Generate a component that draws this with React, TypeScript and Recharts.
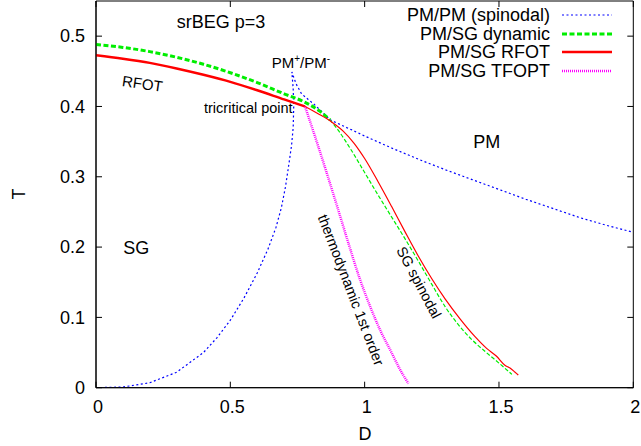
import { LineChart, Line, XAxis, YAxis, Legend, ReferenceArea, Customized } from 'recharts';

// axis ticks
const D_TICKS = [0, 0.5, 1, 1.5, 2];
const T_TICKS = [0, 0.1, 0.2, 0.3, 0.4, 0.5];

// PM/PM spinodal: lower branch up to the cusp, then the upper branch
const spinD = [0, 0.1, 0.2, 0.3, 0.4, 0.45, 0.5, 0.55, 0.6, 0.64, 0.67, 0.69, 0.705, 0.718, 0.728, 0.734, 0.736, 0.734, 0.729,
  0.745, 0.765, 0.79, 0.809, 0.84, 0.871, 0.95, 1.0, 1.1, 1.2, 1.3, 1.4, 1.5, 1.6, 1.7, 1.8, 1.9, 2.0];
const spinT = [0, 0.001, 0.007, 0.022, 0.05, 0.071, 0.096, 0.127, 0.163, 0.197, 0.228, 0.256, 0.285, 0.318, 0.345, 0.37, 0.4, 0.425, 0.449,
  0.432, 0.418, 0.41, 0.404, 0.393, 0.381, 0.367, 0.358, 0.341, 0.325, 0.31, 0.296, 0.282, 0.268, 0.255, 0.242, 0.231, 0.221];

// PM/SG dynamic, left of the tricritical point (thick) and the SG spinodal right of it (thin)
const dynD = [0, 0.1, 0.2, 0.3, 0.4, 0.5, 0.6, 0.7, 0.772, 0.834, 0.871];
const dynT = [0.488, 0.484, 0.478, 0.47, 0.46, 0.448, 0.434, 0.418, 0.407, 0.393, 0.381];
const dynSpD = [0.871, 0.9, 0.95, 1.0, 1.05, 1.1, 1.15, 1.2, 1.25, 1.3, 1.35, 1.4, 1.45, 1.5, 1.548];
const dynSpT = [0.381, 0.367, 0.338, 0.306, 0.274, 0.243, 0.212, 0.18, 0.147, 0.115, 0.089, 0.068, 0.051, 0.035, 0.019];

// PM/SG RFOT
const rfotD = [0, 0.1, 0.2, 0.3, 0.4, 0.5, 0.6, 0.7, 0.778];
const rfotT = [0.473, 0.468, 0.462, 0.454, 0.445, 0.435, 0.423, 0.41, 0.4];
const rfotSpD = [0.778, 0.83, 0.877, 0.92, 0.96, 1.0, 1.05, 1.1, 1.15, 1.2, 1.25, 1.3, 1.355, 1.41, 1.454, 1.49, 1.522, 1.541, 1.56, 1.572];
const rfotSpT = [0.4, 0.389, 0.378, 0.365, 0.348, 0.326, 0.293, 0.258, 0.222, 0.187, 0.155, 0.126, 0.098, 0.073, 0.056, 0.045, 0.032, 0.028, 0.022, 0.018];

// PM/SG TFOPT
const tfoptD = [0.778, 0.8, 0.83, 0.86, 0.9, 0.94, 0.98, 1.02, 1.06, 1.1, 1.13, 1.163];
const tfoptT = [0.4, 0.375, 0.34, 0.304, 0.255, 0.205, 0.157, 0.116, 0.08, 0.05, 0.027, 0.006];

const rows = (d: number[], t: number[]) => d.map((D, i) => ({ D, T: t[i] }));

const W = 641;
const H = 446;
const LEFT = 96;
const RIGHT = 633.3;
const TOP = 1;
const BOTTOM = 387.7;
const FONT = '"Liberation Sans", Arial, Helvetica, sans-serif';

type Style = { color: string; dash?: string; width: number };
const LEGEND: { name: string; style: Style }[] = [
  { name: 'PM/PM (spinodal)', style: { color: '#0000ff', dash: '2 2.5', width: 1.2 } },
  { name: 'PM/SG dynamic', style: { color: '#00ee00', dash: '5 2.5', width: 3 } },
  { name: 'PM/SG RFOT', style: { color: '#ff0000', width: 2.5 } },
  { name: 'PM/SG TFOPT', style: { color: '#ff00ff', dash: '1 1', width: 2.5 } },
];
const [BLUE, GREEN, RED, MAGENTA] = LEGEND.map((l) => l.style);

function XTick({ x, y, payload }: any) {
  return (
    <g>
      <line x1={x} x2={x} y1={BOTTOM - 6} y2={BOTTOM} stroke="#000" />
      <line x1={x} x2={x} y1={TOP} y2={TOP + 6} stroke="#000" />
      <text x={x + 2} y={y} dy="0.71em" textAnchor="middle" fontSize={18} fontFamily={FONT} fill="#000">
        {payload.value}
      </text>
    </g>
  );
}

function YTick({ x, y, payload }: any) {
  return (
    <g>
      <line x1={LEFT} x2={LEFT + 6} y1={y} y2={y} stroke="#000" />
      <line x1={RIGHT - 6} x2={RIGHT} y1={y} y2={y} stroke="#000" />
      <text x={x} y={y} dy="0.35em" textAnchor="end" fontSize={18} fontFamily={FONT} fill="#000">
        {payload.value}
      </text>
    </g>
  );
}

function LegendBox() {
  return (
    <div style={{ fontFamily: FONT, fontSize: 18, lineHeight: '18.5px' }}>
      {LEGEND.map(({ name, style }) => (
        <div key={name} style={{ display: 'flex', justifyContent: 'flex-end', alignItems: 'center', height: 18.5 }}>
          <span style={{ color: '#000', whiteSpace: 'nowrap' }}>{name}</span>
          <svg width={50} height={10} style={{ marginLeft: 12 }}>
            <line x1={0} x2={50} y1={5} y2={5} stroke={style.color} strokeWidth={style.width} strokeDasharray={style.dash} />
          </svg>
        </div>
      ))}
    </div>
  );
}

function Labels() {
  const t = { fontFamily: FONT, fill: '#000' };
  return (
    <g>
      <text x={176.7} y={28.3} fontSize={18} {...t}>srBEG p=3</text>
      <text x={142.5} y={83.5} fontSize={15} textAnchor="middle" dominantBaseline="central" transform="rotate(8 142.5 83.5)" {...t}>RFOT</text>
      <text x={204} y={113} fontSize={14.5} {...t}>tricritical point</text>
      <text x={271.7} y={68.3} fontSize={15} {...t}>
        PM<tspan dy={-6} fontSize={10}>+</tspan><tspan dy={6}>/PM</tspan><tspan dy={-6} fontSize={10}>-</tspan>
      </text>
      <text x={473.3} y={148.3} fontSize={18} {...t}>PM</text>
      <text x={123.3} y={254.3} fontSize={18} {...t}>SG</text>
      <text x={351} y={290} fontSize={14.5} textAnchor="middle" dominantBaseline="central" transform="rotate(69 351 290)" {...t}>thermodynamic 1st order</text>
      <text x={419} y={282.5} fontSize={14.5} textAnchor="middle" dominantBaseline="central" transform="rotate(62 419 282.5)" {...t}>SG spinodal</text>
      <text x={19} y={194} fontSize={18} textAnchor="middle" dominantBaseline="central" transform="rotate(-90 19 194)" {...t}>T</text>
      <text x={365} y={440} fontSize={18} textAnchor="middle" {...t}>D</text>
    </g>
  );
}

export default function App() {
  return (
    <div style={{ position: 'absolute', left: 0, top: 0, width: W, height: H, background: '#fff' }}>
      <LineChart width={W} height={H} margin={{ top: TOP, right: W - RIGHT, bottom: 0, left: 0 }}>
        <XAxis type="number" dataKey="D" domain={[0, 2]} ticks={D_TICKS} interval={0} allowDataOverflow
          height={H - BOTTOM} tickSize={0} tickMargin={13} tickLine={false} axisLine={{ stroke: '#000' }} tick={<XTick />} />
        <YAxis type="number" dataKey="T" domain={[0, 0.55]} ticks={T_TICKS} interval={0} allowDataOverflow
          width={LEFT} tickSize={0} tickMargin={11} tickLine={false} axisLine={{ stroke: '#000' }} tick={<YTick />} />
        <ReferenceArea x1={0} x2={2} y1={0} y2={0.55} fill="none" stroke="#000" strokeWidth={1} />
        <Line data={rows(spinD, spinT)} dataKey="T" name="PM/PM (spinodal)" type="linear" stroke={BLUE.color}
          strokeWidth={BLUE.width} strokeDasharray={BLUE.dash} dot={false} activeDot={false} isAnimationActive={false} />
        <Line data={rows(dynD, dynT)} dataKey="T" name="PM/SG dynamic" type="monotone" stroke={GREEN.color}
          strokeWidth={GREEN.width} strokeDasharray={GREEN.dash} dot={false} activeDot={false} isAnimationActive={false} />
        <Line data={rows(rfotD, rfotT)} dataKey="T" name="PM/SG RFOT" type="monotone" stroke={RED.color}
          strokeWidth={RED.width} dot={false} activeDot={false} isAnimationActive={false} />
        <Line data={rows(tfoptD, tfoptT)} dataKey="T" name="PM/SG TFOPT" type="monotone" stroke={MAGENTA.color}
          strokeWidth={MAGENTA.width} strokeDasharray={MAGENTA.dash} dot={false} activeDot={false} isAnimationActive={false} />
        <Line data={rows(dynSpD, dynSpT)} dataKey="T" name="dyn-spinodal" legendType="none" type="monotone" stroke={GREEN.color}
          strokeWidth={1.2} strokeDasharray="4 2" dot={false} activeDot={false} isAnimationActive={false} />
        <Line data={rows(rfotSpD, rfotSpT)} dataKey="T" name="rfot-spinodal" legendType="none" type="monotone" stroke={RED.color}
          strokeWidth={1.2} dot={false} activeDot={false} isAnimationActive={false} />
        <Legend layout="horizontal" verticalAlign="middle" align="center"
          wrapperStyle={{ top: 6, left: 380, width: 232, height: 76 }}
          content={() => <LegendBox />} />
        <Customized component={<Labels />} />
      </LineChart>
    </div>
  );
}
